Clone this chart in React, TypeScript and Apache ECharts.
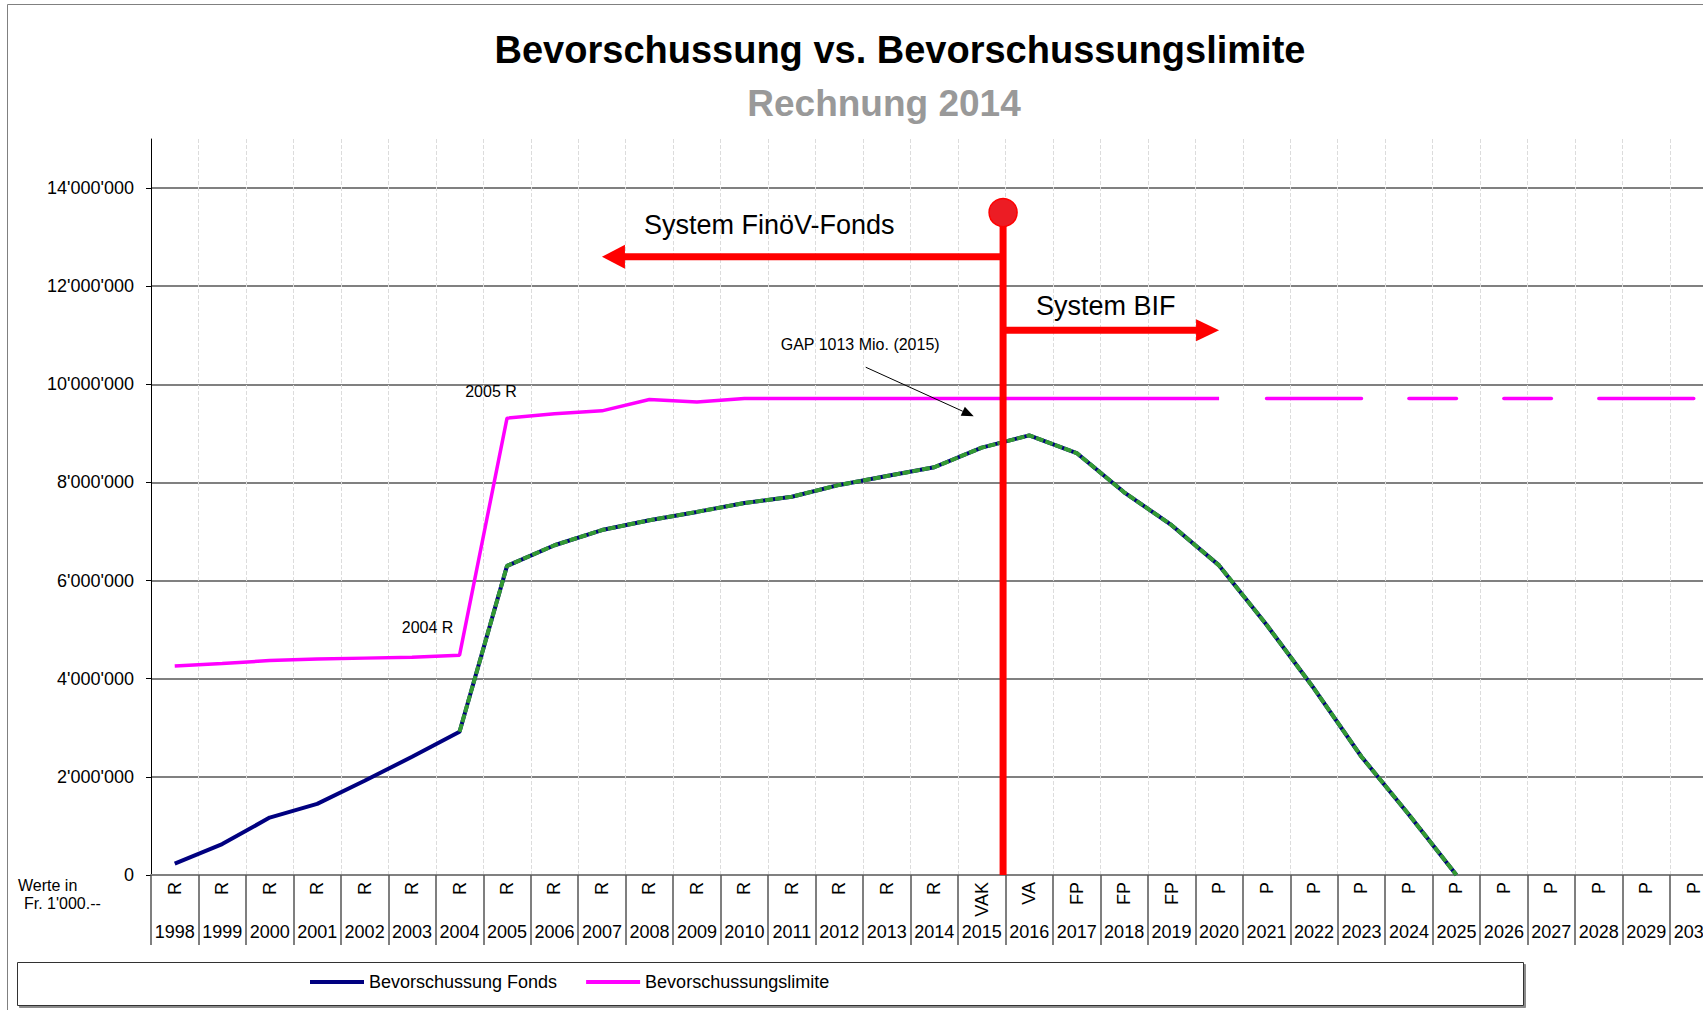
import React, { useEffect, useRef } from 'react';
import * as echarts from 'echarts';

const FONT = "'Liberation Sans', Arial, sans-serif";

const years = [
  '1998', '1999', '2000', '2001', '2002', '2003', '2004', '2005', '2006', '2007', '2008',
  '2009', '2010', '2011', '2012', '2013', '2014', '2015', '2016', '2017', '2018', '2019',
  '2020', '2021', '2022', '2023', '2024', '2025', '2026', '2027', '2028', '2029', '2030',
];

const yearTypes = [
  'R', 'R', 'R', 'R', 'R', 'R', 'R', 'R', 'R', 'R', 'R', 'R', 'R', 'R', 'R', 'R', 'R',
  'VAK', 'VA', 'FP', 'FP', 'FP',
  'P', 'P', 'P', 'P', 'P', 'P', 'P', 'P', 'P', 'P', 'P',
];

// Werte in Fr. 1'000.--
const fondsValues: (number | null)[] = [
  230000, 630000, 1170000, 1450000, 1920000, 2410000, 2920000, 6300000, 6720000, 7030000,
  7230000, 7400000, 7580000, 7710000, 7950000, 8130000, 8310000, 8710000, 8960000, 8600000,
  7800000, 7130000, 6310000, 5100000, 3800000, 2410000, 1230000, 0,
  null, null, null, null, null,
];

const limitValues: number[] = [
  4260000, 4310000, 4370000, 4400000, 4420000, 4440000, 4480000, 9310000, 9400000, 9460000,
  9690000, 9640000, 9710000, 9710000, 9710000, 9710000, 9710000, 9710000, 9710000, 9710000,
  9710000, 9710000, 9710000, 9710000, 9710000, 9710000, 9710000, 9710000, 9710000, 9710000,
  9710000, 9710000, 9710000,
];

const yTicks = [0, 2000000, 4000000, 6000000, 8000000, 10000000, 12000000, 14000000];

// overlay (green dashed) range on Fonds line
const overlayFrom = 2004;
const overlayTo = 2025;
// last year of the solid limit line, then projected dashed segments
const limitSolidTo = 2020;
const limitProjectedSegments: [number, number][] = [
  [2021, 2023],
  [2024, 2025],
  [2026, 2027],
  [2028, 2030],
];

const fmt = (v: number) => String(v).replace(/\B(?=(\d{3})+(?!\d))/g, "'");

const mask = (arr: (number | null)[], from: number, to: number) =>
  arr.map((v, i) => {
    const y = Number(years[i]);
    return y >= from && y <= to ? v : null;
  });

export default function App() {
  const ref = useRef<HTMLDivElement>(null);

  useEffect(() => {
    if (!ref.current) return;
    const chart = echarts.init(ref.current, null, { renderer: 'svg' });

    const limitSeries: any[] = [
      {
        name: 'Bevorschussungslimite',
        type: 'line',
        data: mask(limitValues, 1998, limitSolidTo),
        symbol: 'none',
        lineStyle: { color: '#ff00ff', width: 3.5 },
        itemStyle: { color: '#ff00ff' },
        z: 2,
      },
      ...limitProjectedSegments.map(([a, b]) => ({
        name: 'Bevorschussungslimite',
        type: 'line',
        data: mask(limitValues, a, b),
        symbol: 'none',
        lineStyle: { color: '#ff00ff', width: 3.5, cap: 'round' },
        itemStyle: { color: '#ff00ff' },
        z: 2,
      })),
    ];

    const gridColors = yTicks.map(() => '#808080').concat(['rgba(0,0,0,0)']);

    chart.setOption({
      animation: false,
      backgroundColor: '#ffffff',
      textStyle: { fontFamily: FONT },
      grid: {
        left: 151,
        top: 139,
        width: 1566.5,
        bottom: 135,
        containLabel: false,
        outerBoundsMode: 'none',
      },
      legend: {
        left: 310,
        top: 973,
        padding: 0,
        selectedMode: false,
        icon: 'rect',
        itemWidth: 54,
        itemHeight: 4,
        itemGap: 29,
        data: [
          { name: 'Bevorschussung Fonds', itemStyle: { color: '#000080' } },
          { name: 'Bevorschussungslimite', itemStyle: { color: '#ff00ff' } },
        ],
        textStyle: { fontSize: 18, color: '#000', fontFamily: FONT },
      },
      xAxis: [
        {
          type: 'category',
          data: years,
          boundaryGap: true,
          position: 'bottom',
          axisLine: { show: true, lineStyle: { color: '#808080', width: 2 } },
          axisTick: { show: true, interval: 0, length: 70, lineStyle: { color: '#555', width: 1.5 } },
          axisLabel: { interval: 0, margin: 48, fontSize: 18, color: '#000', fontFamily: FONT },
          splitLine: { show: true, interval: 0, lineStyle: { color: '#dcdcdc', type: 'dashed', width: 1 } },
        },
        {
          type: 'category',
          data: years,
          boundaryGap: true,
          position: 'bottom',
          axisLine: { show: false },
          axisTick: { show: false },
          splitLine: { show: false },
          axisLabel: {
            interval: 0,
            rotate: 90,
            margin: 7,
            fontSize: 18,
            color: '#000',
            fontFamily: FONT,
            formatter: (_v: string, i: number) => yearTypes[i],
          },
        },
      ],
      yAxis: {
        type: 'value',
        min: 0,
        max: 15000000,
        interval: 2000000,
        axisLine: { show: true, lineStyle: { color: '#000', width: 1 } },
        axisTick: { show: true, inside: false, length: 5, customValues: yTicks, lineStyle: { color: '#000' } },
        axisLabel: {
          customValues: yTicks,
          margin: 17,
          fontSize: 18,
          color: '#000',
          fontFamily: FONT,
          formatter: (v: number) => (v > 14000000 ? '' : fmt(v)),
        },
        splitLine: { show: true, lineStyle: { color: gridColors, width: 2 } },
      },
      series: [
        {
          name: 'Bevorschussung Fonds',
          type: 'line',
          data: fondsValues,
          symbol: 'none',
          lineStyle: { color: '#000080', width: 4 },
          itemStyle: { color: '#000080' },
          z: 3,
        },
        {
          name: 'Fonds overlay',
          type: 'line',
          data: mask(fondsValues, overlayFrom, overlayTo),
          symbol: 'none',
          lineStyle: { color: '#339933', width: 4, type: [8, 2] },
          itemStyle: { color: '#339933' },
          z: 4,
        },
        ...limitSeries,
      ],
    });

    const px = (cat: string) => chart.convertToPixel({ xAxisIndex: 0 }, cat) as number;
    const py = (v: number) => chart.convertToPixel({ yAxisIndex: 0 }, v) as number;
    const band = px('1999') - px('1998');
    const redX = px('2015') + band * 0.45;
    const circleY = py(13500000);
    const leftY = py(12600000);
    const rightY = py(11100000);
    const leftTip = px('2007');
    const rightTip = px('2020');
    const baseY = py(0);
    const gapEnd = [px('2015') - 8, py(9350000)];
    const gapStart = [gapEnd[0] - 108, gapEnd[1] - 49];
    const dx = gapEnd[0] - gapStart[0];
    const dy = gapEnd[1] - gapStart[1];
    const len = Math.sqrt(dx * dx + dy * dy);
    const ux = dx / len;
    const uy = dy / len;
    const ah = 12;
    const aw = 5;
    const gapBase = [gapEnd[0] - ux * ah, gapEnd[1] - uy * ah];

    const red = '#ff0000';
    const txt = (text: string, x: number, y: number, size: number, align = 'left', extra: any = {}) => ({
      type: 'text',
      z: 100,
      style: { text, x, y, fill: '#000', font: `${size}px ${FONT}`, align, verticalAlign: 'middle', ...extra },
    });

    chart.setOption({
      graphic: [
        {
          type: 'rect',
          z: 0,
          shape: { x: 7.5, y: 4.5, width: 1750, height: 1100 },
          style: { fill: 'none', stroke: '#808080', lineWidth: 1 },
        },
        {
          type: 'rect',
          z: 0,
          shape: { x: 17.5, y: 962.5, width: 1506, height: 43 },
          style: {
            fill: '#fff',
            stroke: '#333',
            lineWidth: 1,
            shadowColor: 'rgba(0,0,0,0.45)',
            shadowOffsetX: 2,
            shadowOffsetY: 2,
            shadowBlur: 1,
          },
        },
        {
          type: 'text',
          z: 100,
          style: {
            text: 'Bevorschussung vs. Bevorschussungslimite',
            x: 900,
            y: 50,
            fill: '#000',
            font: `bold 38px ${FONT}`,
            align: 'center',
            verticalAlign: 'middle',
          },
        },
        {
          type: 'text',
          z: 100,
          style: {
            text: 'Rechnung 2014',
            x: 884,
            y: 103,
            fill: '#999999',
            font: `bold 37px ${FONT}`,
            align: 'center',
            verticalAlign: 'middle',
          },
        },
        txt('Werte in', 18, 885, 16),
        txt("Fr. 1'000.--", 24, 903, 16),
        // red system separator
        {
          type: 'line',
          z: 100,
          shape: { x1: redX, y1: circleY, x2: redX, y2: baseY },
          style: { stroke: red, lineWidth: 7 },
        },
        {
          type: 'line',
          z: 100,
          shape: { x1: redX, y1: leftY, x2: leftTip + 20, y2: leftY },
          style: { stroke: red, lineWidth: 7 },
        },
        {
          type: 'polygon',
          z: 100,
          shape: { points: [[leftTip, leftY], [leftTip + 23, leftY - 12], [leftTip + 23, leftY + 12]] },
          style: { fill: red },
        },
        {
          type: 'line',
          z: 100,
          shape: { x1: redX, y1: rightY, x2: rightTip - 20, y2: rightY },
          style: { stroke: red, lineWidth: 7 },
        },
        {
          type: 'polygon',
          z: 100,
          shape: { points: [[rightTip, rightY], [rightTip - 23, rightY - 11], [rightTip - 23, rightY + 11]] },
          style: { fill: red },
        },
        {
          type: 'circle',
          z: 101,
          shape: { cx: redX, cy: circleY, r: 14 },
          style: { fill: '#ec1c24', stroke: red, lineWidth: 1.5 },
        },
        txt('System FinöV-Fonds', leftTip + 42, leftY - 32, 27),
        txt('System BIF', redX + 33, rightY - 24, 27),
        // GAP annotation
        txt('GAP 1013 Mio. (2015)', gapEnd[0] - 193, gapEnd[1] - 72, 16),
        {
          type: 'line',
          z: 100,
          shape: { x1: gapStart[0], y1: gapStart[1], x2: gapBase[0], y2: gapBase[1] },
          style: { stroke: '#000', lineWidth: 1 },
        },
        {
          type: 'polygon',
          z: 100,
          shape: {
            points: [
              [gapEnd[0], gapEnd[1]],
              [gapBase[0] - uy * aw, gapBase[1] + ux * aw],
              [gapBase[0] + uy * aw, gapBase[1] - ux * aw],
            ],
          },
          style: { fill: '#000' },
        },
        txt('2005 R', px('2005') - 16, py(limitValues[7]) - 27, 16, 'center'),
        txt('2004 R', px('2004') - 32, py(limitValues[6]) - 28, 16, 'center'),
      ],
    });

    return () => chart.dispose();
  }, []);

  return (
    <div
      ref={ref}
      style={{ position: 'absolute', left: 0, top: 0, width: 1703, height: 1010, background: '#fff' }}
    />
  );
}
